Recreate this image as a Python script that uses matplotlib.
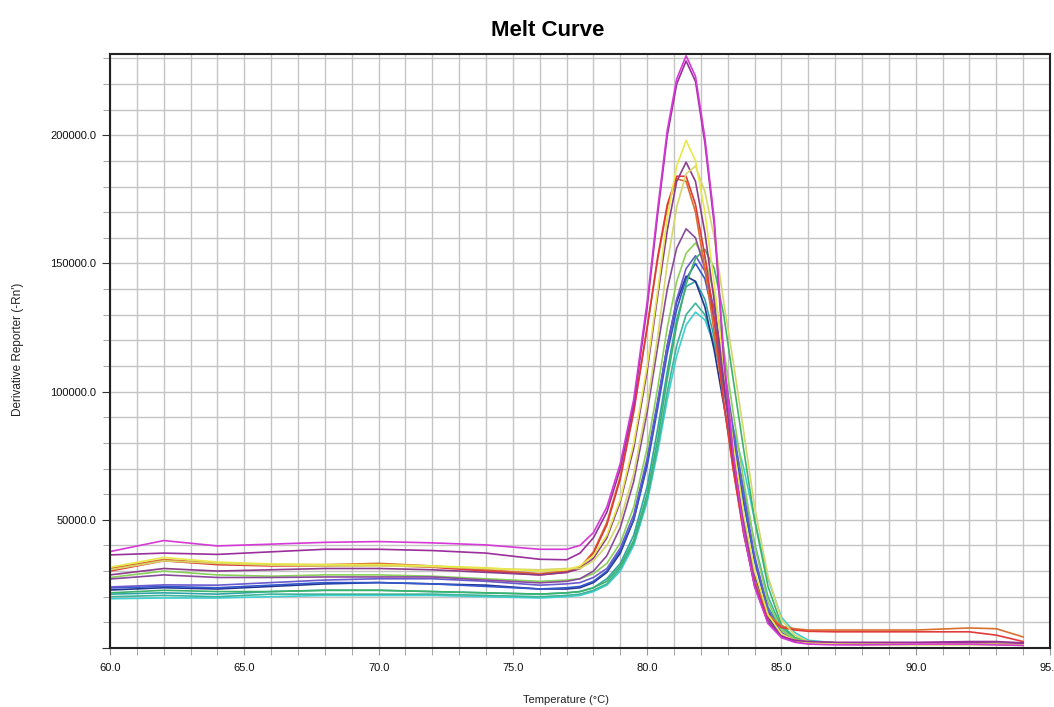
import matplotlib
matplotlib.use('Agg')
import matplotlib.pyplot as plt
from matplotlib.ticker import MultipleLocator, FormatStrFormatter, FuncFormatter

plt.rcParams['font.family'] = ['Liberation Sans', 'DejaVu Sans']

# temperature points (degC)
temps = [60, 62, 64, 66, 68, 70, 72, 74, 76, 77,
         77.5, 78, 78.5, 79, 79.5, 80,
         80.4, 80.75, 81.1, 81.45, 81.8, 82.15, 82.5, 82.85, 83.2, 83.6, 84,
         84.5, 85, 85.5, 86, 87, 88, 90, 92, 93, 94]

# derivative reporter values, in thousands
magenta = [37.6, 41.9, 39.8, 40.5, 41.2, 41.5, 41.0, 40.2, 38.5, 38.5,
           40, 45, 55, 72, 97, 135,
           172, 202, 222, 231, 223, 199, 167, 115, 76, 45, 24,
           9.5, 4, 2.2, 1.5, 1.2, 1.2, 1.5, 1.5, 1.2, 1.0]
dark_magenta = [36.3, 37.0, 36.5, 37.5, 38.5, 38.5, 38.0, 37.0, 34.6, 34.4,
                37, 43, 53, 70, 95, 133,
                170, 200, 220, 229, 221, 197, 165, 113, 75, 45, 24,
                10, 4.5, 3, 2.5, 2.2, 2.2, 2.2, 2.5, 2.5, 2]
yellow = [31.5, 35.3, 33.5, 32.8, 32.5, 32.5, 32.0, 31.3, 30.0, 30.5,
          32, 36, 44, 58, 80, 110,
          140, 168, 188, 198, 190, 170, 142, 110, 80, 52, 30,
          13, 5.5, 3, 2, 1.5, 1.5, 1.5, 1.5, 1.5, 1.2]
khaki = [30.5, 34.0, 33.0, 32.3, 32.0, 32.0, 31.7, 31.0, 30.5, 31.0,
         31, 34, 40, 50, 68, 95,
         122, 150, 172, 185, 188, 178, 160, 135, 112, 84, 55,
         28, 11, 5, 2.5, 1.5, 1.2, 1.2, 1.2, 1.2, 1.0]
violet = [28.5, 31.0, 30.0, 30.5, 31.0, 31.0, 30.5, 29.5, 28.5, 29.5,
          31, 35, 43, 57, 78, 108,
          138, 163, 182, 189.5, 182, 162, 135, 104, 74, 46, 25,
          10, 4.5, 2.5, 2, 1.8, 1.8, 2, 2, 1.8, 1.5]
red = [30.0, 34.0, 32.5, 32.0, 32.0, 32.3, 31.5, 30.0, 28.5, 29.5,
       31, 37, 48, 66, 92, 125,
       153, 173, 184, 184, 173, 153, 128, 96, 70, 44, 25,
       12, 8, 7, 6.5, 6.3, 6.3, 6.3, 6.3, 5, 2.5]
orange = [31.0, 34.5, 33.0, 32.5, 32.5, 33.0, 32.0, 30.5, 29.0, 30.0,
          31.5, 37.5, 49, 67, 93, 125,
          152, 172, 183, 182, 170, 148, 123, 96, 70, 45, 26,
          13, 8.5, 7.5, 7, 7, 7, 7, 7.8, 7.5, 4.3]
purple = [26.9, 28.5, 27.5, 27.5, 27.7, 27.7, 27.7, 26.5, 25.4, 26.0,
          27, 30, 36, 47, 65, 92,
          118, 140, 156, 163.5, 160, 148, 128, 102, 76, 49, 27,
          11, 5, 3, 2, 1.8, 1.8, 2, 2, 1.8, 1.5]
light_green = [27.5, 30.0, 28.5, 28.0, 28.5, 28.5, 28.0, 27.0, 26.0, 26.5,
               27, 29, 33, 41, 55, 78,
               102, 125, 143, 154, 158, 152, 138, 117, 92, 65, 40,
               18, 7, 3.5, 2.5, 2, 2, 2, 2, 2, 1.8]
green = [21.5, 22.5, 22.0, 22.0, 22.5, 22.5, 22.0, 21.5, 21.0, 21.5,
         22, 23.5, 26, 32, 42, 60,
         82, 105, 126, 142, 152, 155.5, 148, 130, 105, 77, 50,
         24, 9, 4, 2.5, 2, 1.8, 1.8, 1.8, 1.8, 1.5]
blue_violet = [23.8, 24.6, 24.5, 25.5, 26.5, 27.0, 27.0, 26.0, 24.5, 25.0,
               25.5, 27.5, 31, 39, 52, 74,
               97, 118, 136, 148, 153, 147, 132, 110, 86, 60, 36,
               15, 6, 3, 2, 1.5, 1.5, 1.5, 1.5, 1.5, 1.2]
blue = [23.4, 24.0, 23.5, 24.5, 25.5, 25.5, 25.0, 24.0, 23.0, 23.5,
        24, 26, 30, 38, 50, 71,
        94, 115, 132, 144, 150, 144, 128, 106, 82, 57, 34,
        14, 5.5, 3, 2, 1.5, 1.5, 1.5, 1.5, 1.5, 1.2]
dark_blue = [22.6, 23.5, 23.0, 24.0, 25.0, 25.5, 25.0, 24.5, 23.0, 23.0,
             23.5, 25.5, 29.5, 37, 50, 72,
             96, 118, 135, 145, 143, 133, 116, 95, 73, 50, 29,
             12, 5, 2.5, 1.8, 1.5, 1.5, 1.5, 1.5, 1.5, 1.2]
teal = [21.0, 21.5, 21.0, 22.0, 22.5, 22.5, 22.0, 21.5, 21.0, 21.5,
        22, 23.5, 27, 33, 44, 63,
        86, 108, 128, 141, 143, 136, 121, 101, 79, 56, 35,
        16, 7, 3.5, 2.5, 2, 1.8, 1.8, 1.8, 1.8, 1.5]
sea_green = [20.0, 20.5, 20.0, 21.0, 21.0, 21.0, 21.0, 20.5, 20.0, 20.5,
             21, 22.5, 25, 31, 41, 58,
             79, 100, 118, 130, 134.5, 130, 119, 102, 83, 62, 41,
             20, 8, 4, 2.5, 2, 1.8, 1.8, 1.8, 1.8, 1.5]
cyan = [19.2, 19.5, 19.5, 20.0, 20.5, 20.5, 20.5, 20.0, 19.5, 20.0,
        20.5, 22, 24.5, 30, 40, 57,
        77, 97, 114, 126, 131, 128, 118, 103, 86, 70, 50,
        27, 12, 6, 3, 2, 1.8, 1.8, 1.8, 1.8, 1.5]

curves = [
    (cyan, '#3fcfcf'),
    (sea_green, '#3db59a'),
    (teal, '#2fa5a8'),
    (dark_blue, '#22338f'),
    (blue, '#3358cc'),
    (blue_violet, '#6a5acd'),
    (green, '#3cb36a'),
    (light_green, '#8bd05a'),
    (purple, '#8a4a9c'),
    (orange, '#d9702e'),
    (red, '#e03a3a'),
    (violet, '#8c3c8c'),
    (khaki, '#d6d66a'),
    (yellow, '#e8e84a'),
    (dark_magenta, '#9a2e9a'),
    (magenta, '#d63ad6'),
]

fig = plt.figure(figsize=(10.54, 7.07), dpi=100)
ax = fig.add_axes([0.1044, 0.0835, 0.8918, 0.8401])

for vals, col in curves:
    ax.plot(temps, [v * 1000 for v in vals], color=col, linewidth=1.2)

ax.set_xlim(60, 95)
ax.set_ylim(0, 231700)

ax.xaxis.set_major_locator(MultipleLocator(5))
ax.xaxis.set_minor_locator(MultipleLocator(1))
ax.yaxis.set_major_locator(MultipleLocator(50000))
ax.yaxis.set_minor_locator(MultipleLocator(10000))
ax.xaxis.set_major_formatter(FormatStrFormatter('%.1f'))
# no label at zero on the y axis
ax.yaxis.set_major_formatter(FuncFormatter(lambda v, p: '' if v == 0 else '%.1f' % v))

ax.grid(True, which='both', color='#c4c4c4', linewidth=1.0)
ax.set_axisbelow(True)

ax.tick_params(axis='both', which='major', labelsize=8, colors='#333333',
               labelcolor='#111111', length=6, pad=4)
ax.tick_params(axis='both', which='minor', colors='#999999', length=5)
ax.tick_params(axis='x', which='major', colors='#999999', labelcolor='#111111',
               length=5, pad=6)

for s in ax.spines.values():
    s.set_linewidth(1.5)
    s.set_color('#222222')

fig.text(548 / 1054, 1 - 31 / 707, 'Melt Curve', fontsize=16, fontweight='bold',
         ha='center', va='center')
fig.text(18 / 1054, 1 - 349 / 707, "Derivative Reporter (-Rn')", fontsize=8.5,
         rotation=90, ha='center', va='center', color='#222222')
fig.text(566 / 1054, 1 - 700 / 707, 'Temperature (°C)', fontsize=8,
         ha='center', va='center', color='#222222')

fig.savefig('out.png', dpi=100)
